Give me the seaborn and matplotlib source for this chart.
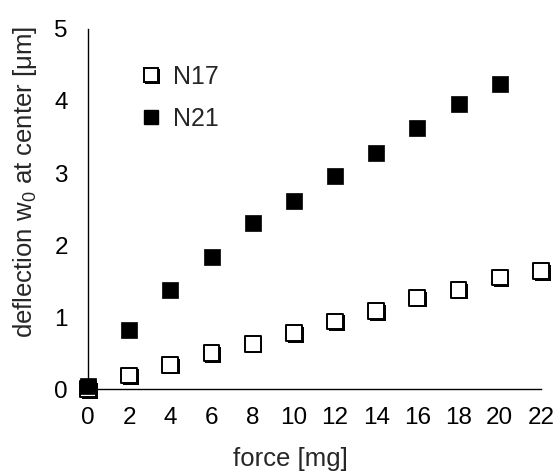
import matplotlib
matplotlib.use("Agg")
import matplotlib.pyplot as plt
import matplotlib.patheffects as pe
from matplotlib.lines import Line2D
import seaborn as sns
import pandas as pd

# Measured deflection at membrane center vs applied force
force_n17 = [0, 2, 4, 6, 8, 10, 12, 14, 16, 18, 20, 22]
defl_n17 = [0.0, 0.19, 0.34, 0.50, 0.63, 0.78, 0.94, 1.08, 1.27, 1.38, 1.55, 1.64]
force_n21 = [0, 2, 4, 6, 8, 10, 12, 14, 16, 18, 20]
defl_n21 = [0.05, 0.82, 1.375, 1.84, 2.30, 2.61, 2.96, 3.28, 3.63, 3.96, 4.24]
x_ticks = [0, 2, 4, 6, 8, 10, 12, 14, 16, 18, 20, 22]
y_ticks = [0, 1, 2, 3, 4, 5]

df17 = pd.DataFrame({"force": force_n17, "deflection": defl_n17})
df21 = pd.DataFrame({"force": force_n21, "deflection": defl_n21})

sns.set_theme(style="white")
plt.rcParams["font.family"] = ["Liberation Sans", "DejaVu Sans"]
plt.rcParams["mathtext.fontset"] = "custom"
plt.rcParams["mathtext.rm"] = "Liberation Sans"
plt.rcParams["mathtext.it"] = "Liberation Sans"

fig = plt.figure(figsize=(5.57, 4.74), dpi=100)
ax = fig.add_axes([0.158, 0.179, 0.813, 0.760])

def open_shadow():
    return [pe.SimplePatchShadow(offset=(1.3, -1.3), shadow_rgbFace="black", alpha=1.0),
            pe.Normal()]

sns.scatterplot(data=df17, x="force", y="deflection", ax=ax, marker="s", s=130,
                facecolor="white", edgecolor="black", linewidth=1.4, clip_on=False,
                zorder=3)
ax.collections[-1].set_path_effects(open_shadow())
sns.scatterplot(data=df21, x="force", y="deflection", ax=ax, marker="s", s=130,
                color="black", edgecolor="black", linewidth=0.5, clip_on=False,
                zorder=4)

ax.set_xlim(0, 22)
ax.set_ylim(0, 5)
ax.set_xticks(x_ticks)
ax.set_yticks(y_ticks)
ax.tick_params(axis="both", labelsize=17.5, colors="black", width=0.8)
ax.tick_params(axis="x", direction="in", length=4, pad=13)
ax.tick_params(axis="y", direction="out", length=3, pad=11.5)
for side in ("top", "right"):
    ax.spines[side].set_visible(False)
for side in ("left", "bottom"):
    ax.spines[side].set_color("black")
    ax.spines[side].set_linewidth(1.0)

ax.set_xlabel("force [mg]", fontsize=18.5, va="baseline")
ax.set_ylabel("deflection w$_0$ at center [\u03bcm]", fontsize=18.5)
ax.xaxis.set_label_coords(0.446, -0.212)
ax.yaxis.set_label_coords(-0.108, 0.575)

handles = [
    Line2D([], [], marker="s", linestyle="none", markersize=10.5, markerfacecolor="white",
           markeredgecolor="black", markeredgewidth=1.4, path_effects=open_shadow()),
    Line2D([], [], marker="s", linestyle="none", markersize=9.5, color="black"),
]
ax.legend(handles, ["N17", "N21"], loc="upper left", bbox_to_anchor=(0.226, 0.890),
          bbox_transform=fig.transFigure, frameon=False, fontsize=18, borderpad=0,
          handletextpad=0.4, labelspacing=0.72, handlelength=1.0)

fig.savefig("out.png", dpi=100)
